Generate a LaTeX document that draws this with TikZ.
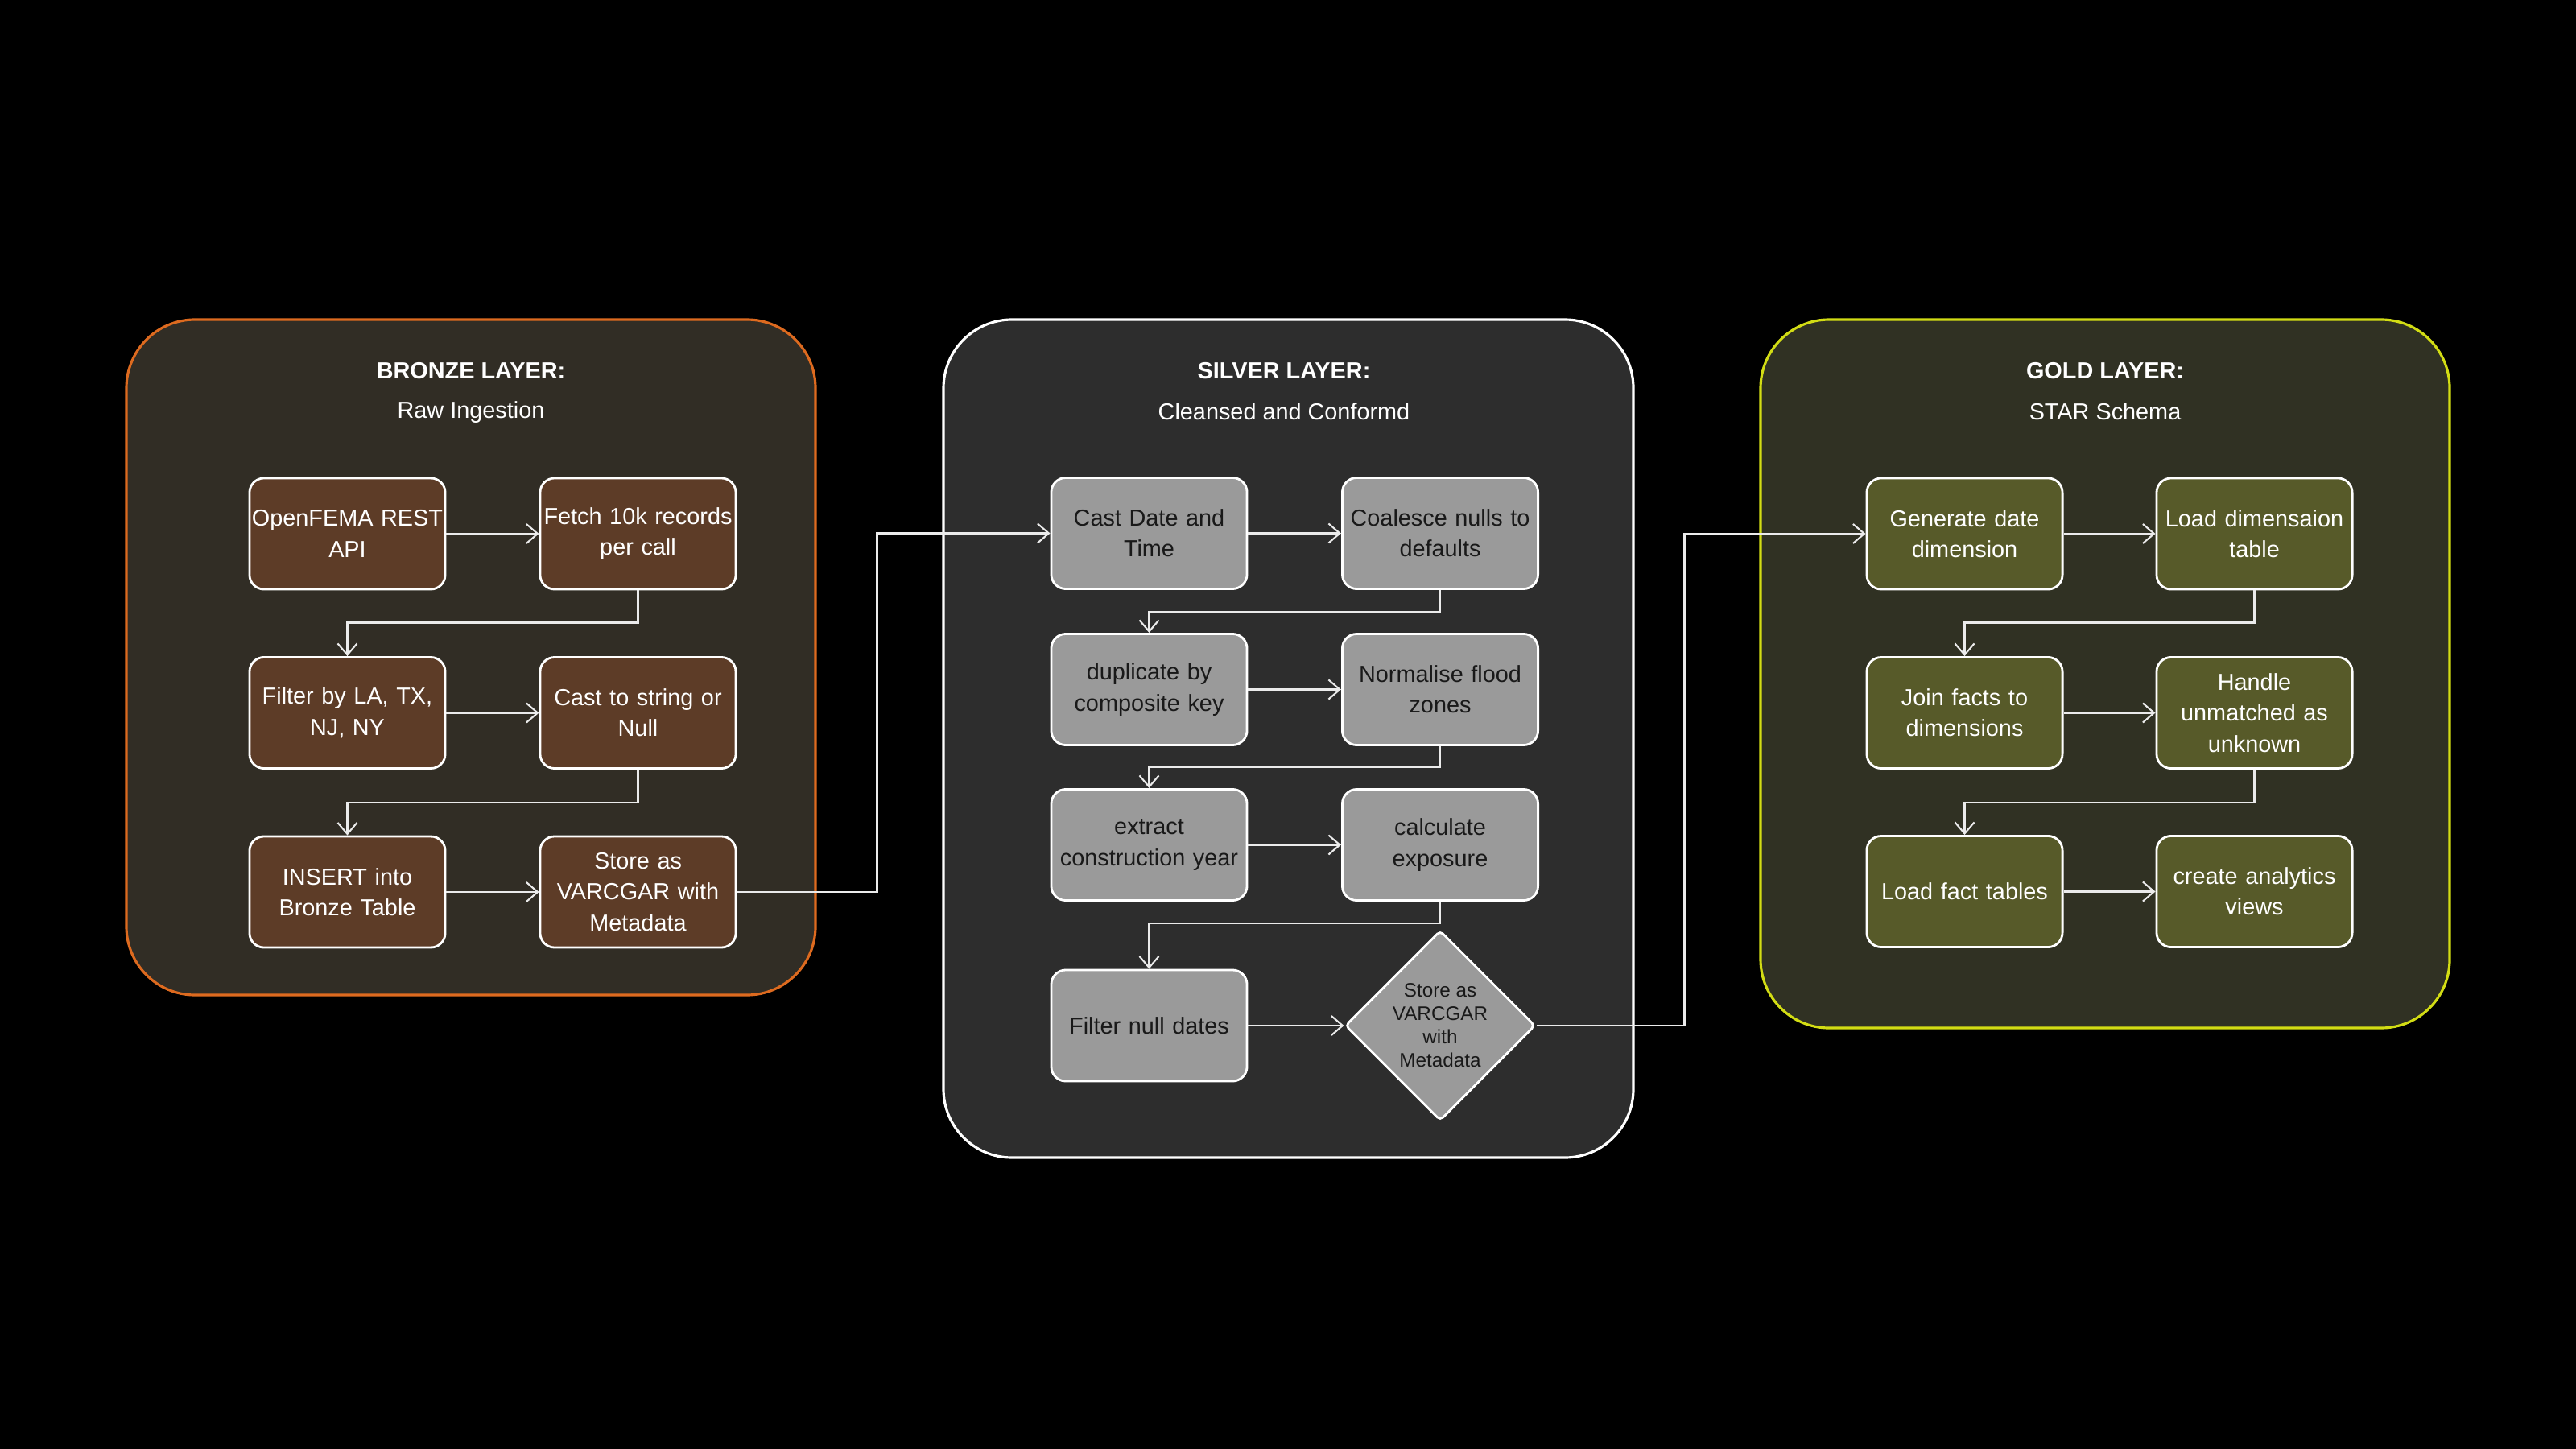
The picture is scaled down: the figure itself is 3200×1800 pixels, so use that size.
\documentclass[tikz,border=0pt]{standalone}
\usepackage{fontspec}
\setmainfont{Liberation Sans}
\usetikzlibrary{arrows.meta,shapes.geometric}
\definecolor{bronzeBorder}{HTML}{DD6A1F}
\definecolor{bronzeFill}{HTML}{312D25}
\definecolor{bronzeBox}{HTML}{5D3C27}
\definecolor{silverFill}{HTML}{2D2D2D}
\definecolor{silverBox}{HTML}{9A9A9A}
\definecolor{goldBorder}{HTML}{D2DC14}
\definecolor{goldFill}{HTML}{303123}
\definecolor{goldBox}{HTML}{575A29}
\begin{document}
\begin{tikzpicture}[x=0.01cm,y=-0.01cm,
  box/.style={draw=white, line width=0.8pt, rounded corners=0.18cm,
    minimum width=2.43cm, minimum height=1.38cm, text width=2.39cm,
    align=center, inner sep=0pt, font=\fontsize{8.2}{10.9}\selectfont},
  bbox/.style={box, fill=bronzeBox, text=white},
  sbox/.style={box, fill=silverBox, text=black!90},
  gbox/.style={box, fill=goldBox, text=white},
  sdiamond/.style={diamond, aspect=1, draw=white, line width=0.8pt,
    fill=silverBox, text=black!90, minimum width=2.36cm, minimum height=2.36cm,
    inner sep=0pt, align=center, rounded corners=0.05cm,
    font=\fontsize{6.9}{8.25}\selectfont},
  conn/.style={draw=white!92!black, line width=0.6pt,
    -{Straight Barb[length=0.14cm,width=0.24cm]}},
  layer/.style={line width=0.9pt, rounded corners=0.85cm},
  ltitle/.style={text=white, font=\fontsize{8.2}{10}\selectfont\bfseries},
  lsub/.style={text=white, font=\fontsize{8.2}{10}\selectfont}
]
\fill[black] (0,0) rectangle (3200,1800);
\useasboundingbox (0,0) rectangle (3200,1800);

% containers
\draw[layer, draw=bronzeBorder, fill=bronzeFill] (157,397) rectangle (1013,1236);
\draw[layer, draw=white, fill=silverFill] (1172,397) rectangle (2029,1438);
\draw[layer, draw=goldBorder, fill=goldFill] (2187,397) rectangle (3043,1277);

% titles
\node[ltitle] (bt) at (585,461) {BRONZE LAYER:};
\node[lsub] (bs) at (585,512) {Raw Ingestion};
\node[ltitle] (st) at (1595,461) {SILVER LAYER:};
\node[lsub] (ss) at (1595,511) {Cleansed and Conformd};
\node[ltitle] (gt) at (2615,461) {GOLD LAYER:};
\node[lsub] (gs) at (2615,511) {STAR Schema};

% bronze
\node[bbox] (b1) at (431.5,663) {OpenFEMA REST\\API};
\node[bbox] (b2) at (792.5,663) {Fetch 10k records\\per call};
\node[bbox] (b3) at (431.5,885.5) {Filter by LA, TX,\\NJ, NY};
\node[bbox] (b4) at (792.5,885.5) {Cast to string or\\Null};
\node[bbox] (b5) at (431.5,1108) {INSERT into\\Bronze Table};
\node[bbox] (b6) at (792.5,1108) {Store as\\VARCGAR with\\Metadata};

% silver
\node[sbox] (s1) at (1427.5,662.5) {Cast Date and\\Time};
\node[sbox] (s2) at (1789,662.5) {Coalesce nulls to\\defaults};
\node[sbox] (s3) at (1427.5,856.5) {duplicate by\\composite key};
\node[sbox] (s4) at (1789,856.5) {Normalise flood\\zones};
\node[sbox] (s5) at (1427.5,1049.5) {extract\\construction year};
\node[sbox] (s6) at (1789,1049.5) {calculate\\exposure};
\node[sbox] (s7) at (1427.5,1274) {Filter null dates};
\node[sdiamond] (s8) at (1789,1274) {Store as\\VARCGAR\\with\\Metadata};

% gold
\node[gbox] (g1) at (2440.5,663) {Generate date\\dimension};
\node[gbox] (g2) at (2800.5,663) {Load dimensaion\\table};
\node[gbox] (g3) at (2440.5,885.5) {Join facts to\\dimensions};
\node[gbox] (g4) at (2800.5,885.5) {Handle\\unmatched as\\unknown};
\node[gbox] (g5) at (2440.5,1107.5) {Load fact tables};
\node[gbox] (g6) at (2800.5,1107.5) {create analytics\\views};

% bronze connectors
\draw[conn] (b1.east) -- (b2.west);
\draw[conn] (b2.south) -- ++(0,40) -| (b3.north);
\draw[conn] (b3.east) -- (b4.west);
\draw[conn] (b4.south) -- ++(0,41) -| (b5.north);
\draw[conn] (b5.east) -- (b6.west);
\draw[conn] (b6.east) -- ++(174,0) |- (s1.west);

% silver connectors
\draw[conn] (s1.east) -- (s2.west);
\draw[conn] (s2.south) -- ++(0,27) -| (s3.north);
\draw[conn] (s3.east) -- (s4.west);
\draw[conn] (s4.south) -- ++(0,26) -| (s5.north);
\draw[conn] (s5.east) -- (s6.west);
\draw[conn] (s6.south) -- ++(0,27) -| (s7.north);
\draw[conn] (s7.east) -- (s8.west);
\draw[conn] (s8.east) -- ++(184,0) |- (g1.west);

% gold connectors
\draw[conn] (g1.east) -- (g2.west);
\draw[conn] (g2.south) -- ++(0,40) -| (g3.north);
\draw[conn] (g3.east) -- (g4.west);
\draw[conn] (g4.south) -- ++(0,41) -| (g5.north);
\draw[conn] (g5.east) -- (g6.west);
\end{tikzpicture}
\end{document}
